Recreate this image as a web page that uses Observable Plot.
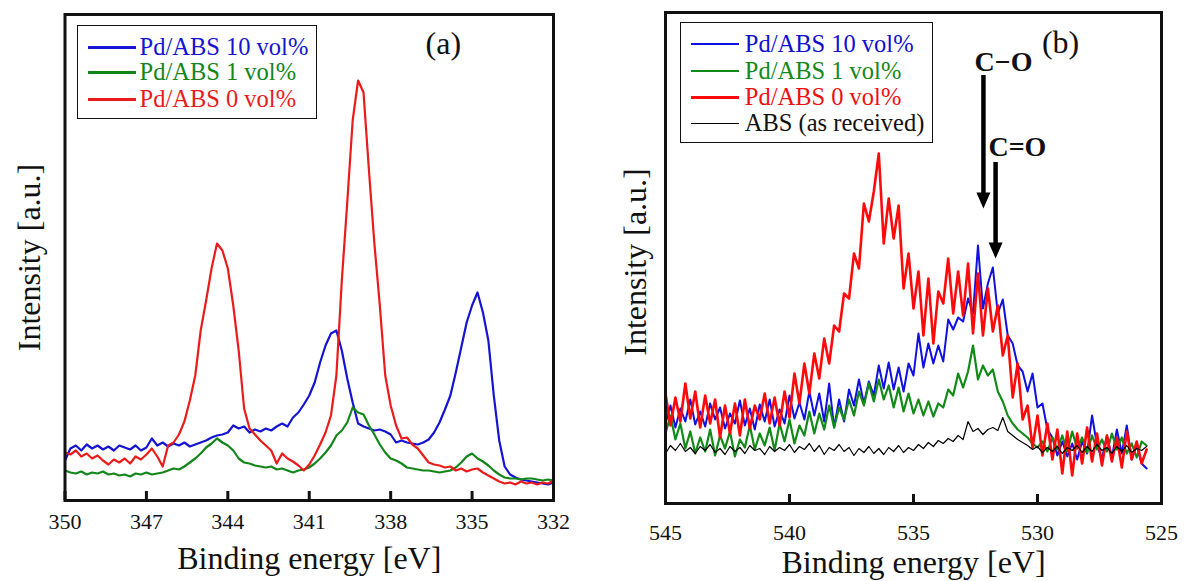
<!DOCTYPE html>
<html>
<head>
<meta charset="utf-8">
<script src="https://cdn.jsdelivr.net/npm/d3@7"></script>
<script src="https://cdn.jsdelivr.net/npm/@observablehq/plot@0.6"></script>
<style>
  html, body { margin: 0; padding: 0; background: #fff; }
  #wrap { position: relative; width: 1184px; height: 581px; display: flex; font-family: "Liberation Serif", "Times New Roman", serif; }
  .panel { position: relative; width: 592px; height: 581px; }
  .panel svg { display: block; }
  .legend { position: absolute; border: 1.5px solid #111; background: #fff; box-sizing: border-box; }
  .legend .swatch { position: absolute; }
  .legend .lab { position: absolute; white-space: nowrap; font-family: "Liberation Serif", "Times New Roman", serif; }
</style>
</head>
<body>
<div id="wrap"><div class="panel" id="pa"></div><div class="panel" id="pb"></div></div>
<script>
// ---------------- data : panel (a) Pd 3d ----------------
const energyA = [
  350.0,349.8,349.6,349.4,349.2,349.0,348.8,348.6,348.4,348.2,
  348.0,347.8,347.6,347.4,347.2,347.0,346.8,346.6,346.4,346.2,
  346.0,345.8,345.6,345.4,345.2,345.0,344.8,344.6,344.4,344.2,
  344.0,343.8,343.6,343.4,343.2,343.0,342.8,342.6,342.4,342.2,
  342.0,341.8,341.6,341.4,341.2,341.0,340.8,340.6,340.4,340.2,
  340.0,339.8,339.6,339.4,339.2,339.0,338.8,338.6,338.4,338.2,
  338.0,337.8,337.6,337.4,337.2,337.0,336.8,336.6,336.4,336.2,
  336.0,335.8,335.6,335.4,335.2,335.0,334.8,334.6,334.4,334.2,
  334.0,333.8,333.6,333.4,333.2,333.0,332.8,332.6,332.4,332.2,
  332.0];
const blueA = [
  40,52,55,50,56,52,55,51,54,50,
  55,53,51,55,50,53,62,55,58,54,
  57,55,58,54,56,58,60,63,65,66,
  68,75,72,74,68,71,69,72,70,74,
  77,74,83,88,96,105,118,138,155,167,
  170,150,122,98,77,74,72,70,71,69,
  66,58,60,58,57,56,58,61,68,78,
  91,105,128,153,178,195,208,188,160,105,
  60,34,26,23,21,20,19,18,17,16,
  18];
const greenA = [
  30,28,27,29,26,28,27,29,26,27,
  25,26,24,27,26,28,26,27,28,30,
  32,31,34,38,42,47,53,57,62,58,
  55,50,42,38,37,35,34,33,34,31,
  32,30,28,30,31,33,37,42,48,55,
  65,70,78,93,88,86,75,66,56,48,
  42,40,37,33,32,31,30,30,29,28,
  29,30,33,38,44,47,42,39,35,30,
  26,23,22,22,21,22,22,21,20,21,
  20];
const redA = [
  48,46,50,44,47,42,45,40,36,41,
  38,42,37,44,41,46,52,44,34,55,
  58,66,79,100,125,170,200,232,257,250,
  232,195,150,92,72,66,60,55,50,37,
  47,42,39,35,30,36,45,56,68,85,
  125,220,298,380,420,408,330,257,195,125,
  95,75,62,63,56,52,45,38,36,35,
  33,34,30,32,29,31,32,28,25,22,
  19,17,18,16,19,17,18,16,18,17,
  20];
const ticksA = [350, 347, 344, 341, 338, 335, 332];
const namesA = ["Pd/ABS 10 vol%", "Pd/ABS 1 vol%", "Pd/ABS 0 vol%"];
const panelLabelA = [{text: "(a)", energy: 336.06, intensity: 457}];

// ---------------- data : panel (b) O 1s ----------------
const energyB = [
  545.0,544.8,544.6,544.4,544.2,544.0,543.8,543.6,543.4,543.2,
  543.0,542.8,542.6,542.4,542.2,542.0,541.8,541.6,541.4,541.2,
  541.0,540.8,540.6,540.4,540.2,540.0,539.8,539.6,539.4,539.2,
  539.0,538.8,538.6,538.4,538.2,538.0,537.8,537.6,537.4,537.2,
  537.0,536.8,536.6,536.4,536.2,536.0,535.8,535.6,535.4,535.2,
  535.0,534.8,534.6,534.4,534.2,534.0,533.8,533.6,533.4,533.2,
  533.0,532.8,532.6,532.4,532.2,532.0,531.8,531.6,531.4,531.2,
  531.0,530.8,530.6,530.4,530.2,530.0,529.8,529.6,529.4,529.2,
  529.0,528.8,528.6,528.4,528.2,528.0,527.8,527.6,527.4,527.2,
  527.0,526.8,526.6,526.4,526.2,526.0,525.8,525.6];
const blueB = [
  80,98,76,95,82,104,79,92,77,100,
  84,96,75,90,80,103,78,95,74,99,
  82,104,77,94,80,108,85,101,84,112,
  88,110,82,120,76,104,82,114,98,124,
  100,122,108,138,115,141,114,136,112,140,
  128,170,136,160,140,158,142,184,174,186,
  182,205,190,258,195,220,236,190,204,168,
  160,138,132,112,130,96,100,74,66,48,
  62,47,60,44,62,50,88,58,45,68,
  46,74,50,78,44,58,40,35];
const greenB = [
  70,88,64,80,55,72,50,66,52,74,
  48,68,55,72,47,64,56,78,54,70,
  58,76,53,80,62,84,60,78,68,92,
  70,90,74,98,76,96,84,104,88,112,
  98,120,102,124,104,118,96,116,92,110,
  90,104,88,102,87,100,96,114,108,130,
  116,132,158,124,138,128,134,112,102,88,
  80,74,70,66,60,56,62,52,66,54,
  68,52,72,55,66,51,68,54,64,52,
  70,54,66,50,60,46,62,58];
const redB = [
  110,78,106,82,120,85,112,76,108,80,
  104,66,98,70,100,68,104,75,98,84,
  110,80,106,78,112,86,130,100,140,110,
  150,125,165,140,178,172,210,205,250,235,
  300,282,312,350,260,305,265,298,215,250,
  195,232,168,225,160,212,200,245,190,232,
  188,240,170,230,168,215,172,198,148,168,
  106,140,84,98,56,88,48,80,44,74,
  30,72,28,70,40,76,42,70,38,68,
  42,66,36,72,44,62,40,54];
const blackB = [
  50,58,53,60,52,56,50,57,53,59,
  51,55,49,57,52,56,50,58,53,55,
  49,57,52,56,53,59,51,57,54,60,
  52,58,49,56,53,59,52,56,48,55,
  51,57,50,55,49,56,52,58,51,56,
  53,59,55,61,57,63,60,65,62,68,
  64,82,72,75,69,74,76,73,86,72,
  68,64,61,58,54,57,51,56,52,57,
  50,56,53,58,51,57,52,59,53,56,
  50,57,52,58,51,55,53,57];
const ticksB = [545, 540, 535, 530, 525];
const namesB = ["Pd/ABS 10 vol%", "Pd/ABS 1 vol%", "Pd/ABS 0 vol%", "ABS (as received)"];
const panelLabelB = [{text: "(b)", energy: 529.07, intensity: 461}];
const bondNames = ["C\u2212O", "C=O"];
const bondLabelEnergy = [531.37, 530.81];
const bondLabelIntensity = [441, 356];
const bondArrowEnergy = [532.18, 531.69];
const bondArrowTop = [428, 341];
const bondArrowHead = [303, 253];

const xTitle = "Binding energy [eV]";
const yTitle = "Intensity [a.u.]";

// ---------------- helpers ----------------
const FONT = "Liberation Serif, Times New Roman, serif";
function rows(energy, values) { return energy.map((e, i) => ({energy: e, intensity: values[i]})); }
const headDown = {draw(ctx) { ctx.moveTo(-7, -8); ctx.lineTo(7, -8); ctx.lineTo(0, 8); ctx.closePath(); }};

function addLegend(panel, spec) {
  const box = document.createElement("div");
  box.className = "legend";
  Object.assign(box.style, {left: spec.left + "px", top: spec.top + "px", width: spec.width + "px", height: spec.height + "px"});
  spec.names.forEach((name, i) => {
    const cy = spec.rows[i];
    const sw = document.createElement("div");
    sw.className = "swatch";
    Object.assign(sw.style, {left: spec.lineX0 + "px", width: (spec.lineX1 - spec.lineX0) + "px",
      top: (cy - spec.widths[i] / 2) + "px", height: spec.widths[i] + "px", background: spec.colors[i]});
    box.appendChild(sw);
    const t = document.createElement("div");
    t.className = "lab";
    t.textContent = name;
    Object.assign(t.style, {left: spec.textX + "px", top: (cy - spec.fontSize / 2) + "px",
      fontSize: spec.fontSize + "px", lineHeight: spec.fontSize + "px", color: spec.textColors[i]});
    box.appendChild(t);
  });
  panel.appendChild(box);
}

// ---------------- panel (a) ----------------
const colA = ["#1414d2", "#13861a", "#ea1b1b"];
const innerHA = 581 - 14 - 81;
const chartA = Plot.plot({
  width: 592, height: 581,
  marginLeft: 64.5, marginRight: 39, marginTop: 14, marginBottom: 81,
  x: {domain: [350, 332], label: null},
  y: {domain: [0, 486], axis: null},
  style: {fontFamily: FONT, fontSize: "22px", color: "#111", background: "transparent", overflow: "visible"},
  marks: [
    Plot.axisX(ticksA, {tickSize: 0, tickPadding: 13, fontSize: 22, label: null, tickFormat: d => String(d)}),
    Plot.ruleX(ticksA, {insetTop: innerHA - 9, stroke: "#111", strokeWidth: 3}),
    Plot.line(rows(energyA, blueA), {x: "energy", y: "intensity", stroke: colA[0], strokeWidth: 2.2}),
    Plot.line(rows(energyA, greenA), {x: "energy", y: "intensity", stroke: colA[1], strokeWidth: 2.2}),
    Plot.line(rows(energyA, redA), {x: "energy", y: "intensity", stroke: colA[2], strokeWidth: 2.2}),
    Plot.frame({stroke: "#111", strokeWidth: 3}),
    Plot.text([xTitle], {frameAnchor: "bottom", dy: 58, fontSize: 32, lineAnchor: "middle", fill: "#111"}),
    Plot.text([yTitle], {frameAnchor: "left", textAnchor: "middle", rotate: -90, dx: -35, fontSize: 32, lineAnchor: "middle", fill: "#111"}),
    Plot.text(panelLabelA, {x: "energy", y: "intensity", text: "text", fontSize: 32, lineAnchor: "middle", fill: "#111"})
  ]
});
const pa = document.getElementById("pa");
pa.appendChild(chartA);
addLegend(pa, {left: 77, top: 25, width: 240, height: 94, rows: [21.7, 46.7, 73.3],
  lineX0: 10, lineX1: 58, textX: 61.5, fontSize: 24.5, names: namesA,
  colors: colA, textColors: colA, widths: [2.5, 2.5, 2.5]});

// ---------------- panel (b) ----------------
const colB = ["#1010e0", "#128a18", "#ff0a0a", "#000000"];
const innerHB = 581 - 12 - 78;
const arrows = bondArrowEnergy.map((e, i) => ({energy: e, top: bondArrowTop[i], head: bondArrowHead[i]}));
const bondLabels = bondNames.map((t, i) => ({text: t, energy: bondLabelEnergy[i], intensity: bondLabelIntensity[i]}));
const chartB = Plot.plot({
  width: 592, height: 581,
  marginLeft: 73, marginRight: 23, marginTop: 12, marginBottom: 78,
  x: {domain: [545, 525], label: null},
  y: {domain: [0, 491], axis: null},
  style: {fontFamily: FONT, fontSize: "22px", color: "#111", background: "transparent", overflow: "visible"},
  marks: [
    Plot.axisX(ticksB, {tickSize: 0, tickPadding: 21, fontSize: 22, label: null, tickFormat: d => String(d)}),
    Plot.ruleX(ticksB, {insetTop: innerHB - 9, stroke: "#111", strokeWidth: 3}),
    Plot.line(rows(energyB, blueB), {x: "energy", y: "intensity", stroke: colB[0], strokeWidth: 2}),
    Plot.line(rows(energyB, greenB), {x: "energy", y: "intensity", stroke: colB[1], strokeWidth: 2.2}),
    Plot.line(rows(energyB, redB), {x: "energy", y: "intensity", stroke: colB[2], strokeWidth: 2.6}),
    Plot.line(rows(energyB, blackB), {x: "energy", y: "intensity", stroke: colB[3], strokeWidth: 1.2}),
    Plot.frame({stroke: "#111", strokeWidth: 3}),
    Plot.ruleX(arrows, {x: "energy", y1: "top", y2: "head", stroke: "#000", strokeWidth: 4.5}),
    Plot.dot(arrows, {x: "energy", y: "head", symbol: headDown, fill: "#000", stroke: "none", r: 6}),
    Plot.text(bondLabels, {x: "energy", y: "intensity", text: "text", fontSize: 28, fontWeight: "bold", lineAnchor: "middle", fill: "#111"}),
    Plot.text([xTitle], {frameAnchor: "bottom", dy: 59, fontSize: 32, lineAnchor: "middle", fill: "#111"}),
    Plot.text([yTitle], {frameAnchor: "left", textAnchor: "middle", rotate: -90, dx: -29.5, dy: 4, fontSize: 32, lineAnchor: "middle", fill: "#111"}),
    Plot.text(panelLabelB, {x: "energy", y: "intensity", text: "text", fontSize: 32, lineAnchor: "middle", fill: "#111"})
  ]
});
const pb = document.getElementById("pb");
pb.appendChild(chartB);
addLegend(pb, {left: 88.4, top: 21.7, width: 253, height: 121, rows: [21.6, 48.3, 75, 101],
  lineX0: 10, lineX1: 58, textX: 63.4, fontSize: 24.5, names: namesB,
  colors: colB, textColors: ["#1010d0", "#128a18", "#ee1010", "#111"], widths: [2, 2, 3, 1]});
</script>
</body>
</html>
